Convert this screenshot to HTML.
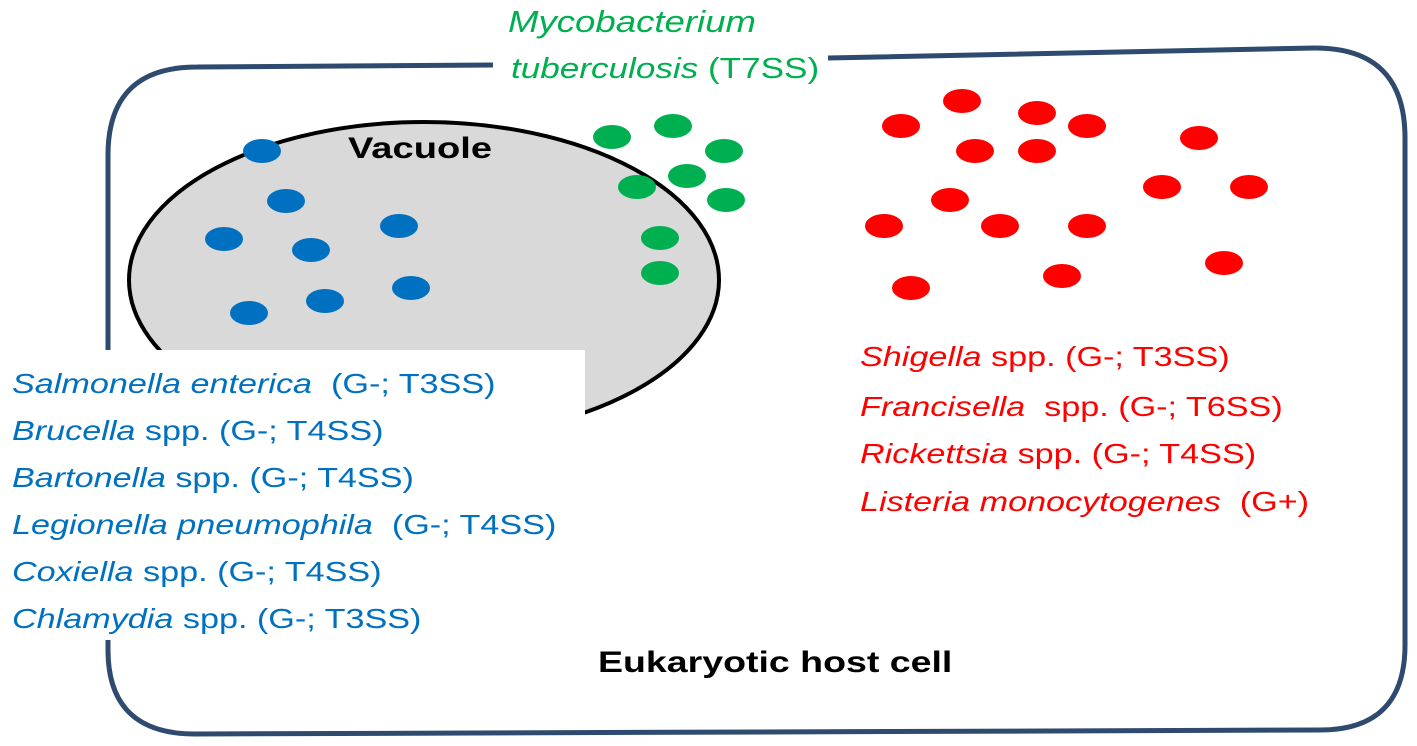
<!DOCTYPE html>
<html><head><style>
body{margin:0;width:1417px;height:746px;background:#fff;overflow:hidden;position:relative;font-family:"Liberation Sans",sans-serif}
svg{position:absolute;left:0;top:0}
.t{position:absolute;font-size:28px;white-space:nowrap;line-height:1;transform:scaleX(1.22);transform-origin:0 0}
.b{color:#0070c0}.r{color:#ff0000}.g{color:#00b050}
i{font-style:italic}
</style></head><body>
<svg width="1417" height="746">
<path d="M197,67 L493,65 M828,58 L1315,48 Q1405,48 1405,138 L1405,645 Q1405,730 1320,730 L195,734 Q108,734 108,650 L108,155 Q108,67 197,67" fill="none" stroke="#2e4a6e" stroke-width="5"/>
<ellipse cx="424" cy="280" rx="295" ry="158" fill="#d9d9d9" stroke="#000" stroke-width="4"/>
<rect x="0" y="350" width="585" height="290" fill="#fff"/>
<g fill="#0070c0">
<ellipse cx="262" cy="151" rx="19" ry="12"/><ellipse cx="286" cy="201" rx="19" ry="12"/><ellipse cx="224" cy="239" rx="19" ry="12"/><ellipse cx="311" cy="250" rx="19" ry="12"/><ellipse cx="399" cy="226" rx="19" ry="12"/><ellipse cx="249" cy="313" rx="19" ry="12"/><ellipse cx="325" cy="301" rx="19" ry="12"/><ellipse cx="411" cy="288" rx="19" ry="12"/>
</g>
<g fill="#00b050">
<ellipse cx="612" cy="137" rx="19" ry="12"/><ellipse cx="673" cy="126" rx="19" ry="12"/><ellipse cx="724" cy="151" rx="19" ry="12"/><ellipse cx="637" cy="187" rx="19" ry="12"/><ellipse cx="687" cy="176" rx="19" ry="12"/><ellipse cx="726" cy="200" rx="19" ry="12"/><ellipse cx="660" cy="238" rx="19" ry="12"/><ellipse cx="660" cy="273" rx="19" ry="12"/>
</g>
<g fill="#ff0000">
<ellipse cx="962" cy="101" rx="19" ry="12"/><ellipse cx="1037" cy="113" rx="19" ry="12"/><ellipse cx="901" cy="126" rx="19" ry="12"/><ellipse cx="1087" cy="126" rx="19" ry="12"/><ellipse cx="1199" cy="138" rx="19" ry="12"/><ellipse cx="975" cy="151" rx="19" ry="12"/><ellipse cx="1037" cy="151" rx="19" ry="12"/><ellipse cx="1162" cy="187" rx="19" ry="12"/><ellipse cx="1249" cy="187" rx="19" ry="12"/><ellipse cx="950" cy="200" rx="19" ry="12"/><ellipse cx="884" cy="226" rx="19" ry="12"/><ellipse cx="1000" cy="226" rx="19" ry="12"/><ellipse cx="1087" cy="226" rx="19" ry="12"/><ellipse cx="1224" cy="263" rx="19" ry="12"/><ellipse cx="1062" cy="276" rx="19" ry="12"/><ellipse cx="911" cy="288" rx="19" ry="12"/>
</g>
</svg>
<div class="t g" style="left:508px;top:6px;font-size:31px;transform:scaleX(1.18)"><i>Mycobacterium</i></div>
<div class="t g" style="left:511px;top:55px;font-size:29px;transform:scaleX(1.21)"><i>tuberculosis</i> (T7SS)</div>
<div class="t" style="left:348px;top:134px;font-size:30px;font-weight:bold;transform:scaleX(1.27)">Vacuole</div>
<div class="t b" style="left:12px;top:370px"><i>Salmonella enterica</i>&nbsp; (G-; T3SS)</div>
<div class="t b" style="left:12px;top:417px"><i>Brucella</i> spp. (G-; T4SS)</div>
<div class="t b" style="left:12px;top:464px"><i>Bartonella</i> spp. (G-; T4SS)</div>
<div class="t b" style="left:12px;top:511px"><i>Legionella pneumophila</i>&nbsp; (G-; T4SS)</div>
<div class="t b" style="left:12px;top:558px"><i>Coxiella</i> spp. (G-; T4SS)</div>
<div class="t b" style="left:12px;top:605px"><i>Chlamydia</i> spp. (G-; T3SS)</div>
<div class="t r" style="left:860px;top:343px"><i>Shigella</i> spp. (G-; T3SS)</div>
<div class="t r" style="left:860px;top:393px"><i>Francisella</i>&nbsp; spp. (G-; T6SS)</div>
<div class="t r" style="left:860px;top:440px"><i>Rickettsia</i> spp. (G-; T4SS)</div>
<div class="t r" style="left:860px;top:488px"><i>Listeria monocytogenes</i>&nbsp; (G+)</div>
<div class="t" style="left:598px;top:648px;font-size:30px;font-weight:bold;transform:scaleX(1.25)">Eukaryotic host cell</div>
</body></html>
